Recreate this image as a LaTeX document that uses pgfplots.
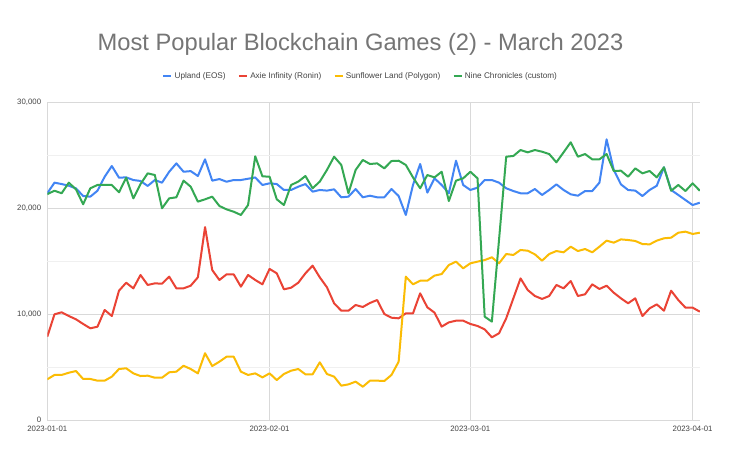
\documentclass[border=0pt]{standalone}
\usepackage{pgfplots}
\pgfplotsset{compat=1.18}
\usepackage{pgfplotstable}
\usepackage{fontspec}
\setmainfont{Liberation Sans}
\definecolor{cBlue}{HTML}{4285F4}
\definecolor{cRed}{HTML}{EA4335}
\definecolor{cYellow}{HTML}{FBBC04}
\definecolor{cGreen}{HTML}{34A853}
\definecolor{titleGray}{HTML}{757575}
\definecolor{tickGray}{HTML}{444444}
\pgfplotstableread{
d up axie sun nine
0 21390 7860 3840 21310
1 22390 9970 4250 21630
2 22260 10160 4250 21390
3 22100 9810 4460 22390
4 21850 9500 4620 21760
5 21130 9060 3870 20350
6 21070 8650 3870 21860
7 21630 8800 3710 22170
8 22950 10380 3710 22170
9 23960 9810 4090 22170
10 22860 12200 4810 21480
11 22890 12950 4880 22860
12 22640 12420 4400 20910
13 22550 13680 4150 22260
14 22080 12740 4180 23270
15 22640 12890 3990 23110
16 22390 12860 3990 19970
17 23420 13520 4500 20910
18 24210 12420 4560 21010
19 23420 12420 5120 22580
20 23480 12670 4810 22010
21 23020 13460 4400 20600
22 24590 18200 6300 20820
23 22580 14150 5090 21070
24 22730 13210 5500 20190
25 22480 13740 5970 19870
26 22640 13740 5970 19650
27 22640 12580 4560 19340
28 22760 13680 4250 20280
29 22880 13210 4400 24880
30 22170 12800 4020 22990
31 22330 14250 4400 22950
32 22260 13840 3770 20820
33 21700 12330 4340 20280
34 21700 12480 4650 22170
35 22010 12950 4810 22490
36 22260 13840 4310 23020
37 21540 14560 4310 21860
38 21700 13460 5440 22490
39 21640 12520 4340 23590
40 21760 11010 4090 24840
41 21010 10310 3240 24060
42 21070 10310 3360 21390
43 21790 10850 3620 23590
44 21010 10660 3140 24530
45 21160 11040 3710 24150
46 21010 11320 3710 24210
47 21010 10000 3680 23740
48 21790 9650 4250 24430
49 21130 9590 5500 24460
50 19340 10060 13520 24060
51 22170 10060 12800 22890
52 24150 11950 13140 21860
53 21450 10630 13140 23110
54 22800 10130 13620 22890
55 22170 8810 13770 23420
56 21390 9210 14620 20660
57 24460 9370 14940 22580
58 22170 9370 14310 22800
59 21700 9060 14780 23420
60 21920 8870 14940 22800
61 22640 8550 15090 9750
62 22640 7800 15350 9280
63 22390 8180 14780 17000
64 21860 9590 15660 24840
65 21600 11480 15570 24910
66 21390 13360 16040 25470
67 21390 12260 15970 25250
68 21790 11700 15630 25470
69 21230 11420 15030 25310
70 21700 11700 15660 25090
71 22230 12740 15940 24310
72 21700 12420 15820 25250
73 21290 13110 16350 26200
74 21160 11700 15940 24840
75 21600 11860 16130 25090
76 21600 12800 15820 24590
77 22390 12360 16350 24590
78 26480 12670 16920 25090
79 23590 12010 16730 23490
80 22230 11480 17040 23520
81 21700 11010 16980 22950
82 21640 11480 16890 23740
83 21130 9810 16600 23270
84 21700 10530 16570 23490
85 22100 10910 16920 22890
86 23840 10310 17140 23840
87 21700 12200 17200 21630
88 21230 11320 17670 22170
89 20750 10600 17770 21600
90 20280 10600 17550 22330
91 20500 10220 17670 21630
}\datatable
\begin{document}
\begin{tikzpicture}[x=1pt,y=1pt]
\useasboundingbox[fill=white] (0,0) rectangle (736,453);
\begin{axis}[
  at={(47.3pt,33pt)}, anchor=south west,
  width=652.5pt, height=318pt, scale only axis,
  xmin=0, xmax=91, ymin=0, ymax=30000,
  axis line style={draw=none},
  major tick length=0pt, minor tick length=0pt,
  xtick={0,31,59,90},
  xticklabels={2023-01-01,2023-02-01,2023-03-01,2023-04-01},
  ytick={0,10000,20000,30000},
  yticklabels={0,{10,000},{20,000},{30,000}},
  minor ytick={5000,15000,25000},
  scaled y ticks=false,
  grid=both,
  major grid style={draw=black!15, line width=0.7pt},
  minor grid style={draw=black!6, line width=0.7pt},
  extra y ticks={0}, extra y tick labels={},
  extra y tick style={grid style={draw=black!45, line width=0.8pt}},
  ticklabel style={font=\fontsize{7.8}{9}\selectfont, text=tickGray},
  yticklabel style={inner sep=0pt, xshift=-6pt},
  xticklabel style={inner sep=0pt, yshift=-6pt},
  title={Most Popular Blockchain Games (2) - March 2023},
  title style={at={(0.48,1.163)}, anchor=center, font=\fontsize{23.7}{28}\selectfont, text=titleGray},
  legend columns=4,
  legend style={at={(0.48,1.082)}, anchor=center, draw=none, fill=none,
    font=\fontsize{8.2}{10}\selectfont, text=tickGray,
    /tikz/every even column/.append style={column sep=10pt}},
  legend image code/.code={\draw[#1, line width=2.6pt] (0pt,0pt) -- (8pt,0pt);},
  every axis plot/.append style={line width=2pt, line join=round},
]
\addplot[cBlue] table[x=d, y=up] {\datatable};
\addlegendentry{Upland (EOS)}
\addplot[cRed] table[x=d, y=axie] {\datatable};
\addlegendentry{Axie Infinity (Ronin)}
\addplot[cYellow] table[x=d, y=sun] {\datatable};
\addlegendentry{Sunflower Land (Polygon)}
\addplot[cGreen] table[x=d, y=nine] {\datatable};
\addlegendentry{Nine Chronicles (custom)}
\end{axis}
\end{tikzpicture}
\end{document}
